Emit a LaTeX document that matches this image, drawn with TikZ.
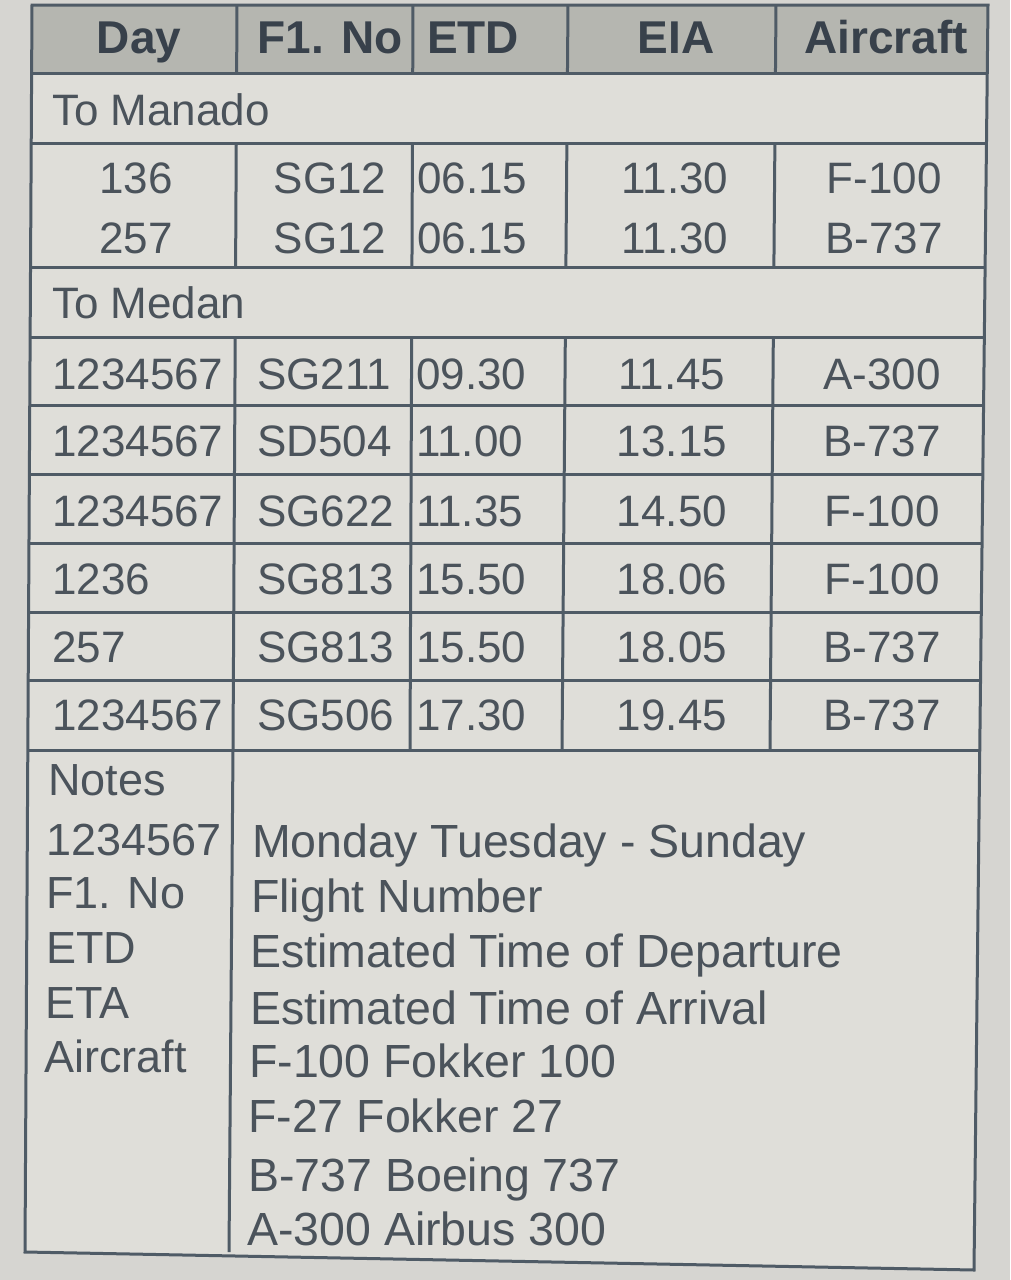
\documentclass[tikz,border=0pt]{standalone}
\usepackage{fontspec}
\setmainfont{Liberation Sans}
\definecolor{bgc}{HTML}{D6D5D1}
\definecolor{paper}{HTML}{DFDED9}
\definecolor{hdr}{HTML}{B5B6B0}
\definecolor{rulec}{HTML}{4F5B66}
\definecolor{ink}{HTML}{4B535B}
\definecolor{hink}{HTML}{38414B}
\newcommand\vseg[4]{%
  \pgfmathsetmacro\xa{#1+(#2-#1)*(#3-5)/745}%
  \pgfmathsetmacro\xb{#1+(#2-#1)*(#4-5)/745}%
  \draw[tabline] (\xa,#3) -- (\xb,#4);}
\begin{document}
\begin{tikzpicture}[x=1pt,y=-1pt,
  tabline/.style={draw=rulec,line width=3pt},
  every node/.style={inner sep=0pt,text=ink},
  body/.style={font=\fontsize{44}{50}\selectfont},
  hd/.style={font=\fontsize{46}{52}\selectfont\bfseries,text=hink,anchor=base},
  cc/.style={body,anchor=base},
  lc/.style={body,anchor=base west},
  nt/.style={font=\fontsize{46.5}{52}\selectfont,anchor=base west},
  ntl/.style={font=\fontsize{45}{52}\selectfont,anchor=base west}]
\useasboundingbox (0,0) rectangle (1010,1280);
\fill[bgc] (0,0) rectangle (1010,1280);
% paper and header
\fill[paper] (32,5) -- (988,5) -- (974,1270) -- (25,1252) -- cycle;
\fill[hdr] (32,5) -- (988,5) -- (987.2,73) -- (31.6,73) -- cycle;
% horizontal rules
\foreach \yy in {73,143,267,337,405,474,543,612,680,750}{
  \pgfmathsetmacro\xl{32-7*(\yy-5)/1247}
  \pgfmathsetmacro\xr{988-14*(\yy-5)/1265}
  \draw[tabline] (\xl,\yy) -- (\xr,\yy);
}
% outer border
\draw[tabline,line join=miter] (32,5) -- (988,5) -- (974,1270) -- (25,1252) -- cycle;
% vertical rules
\foreach \xt/\xbt in {237/233,413/410,568/562,776/770}{
  \vseg{\xt}{\xbt}{5}{73}
  \vseg{\xt}{\xbt}{143}{267}
  \vseg{\xt}{\xbt}{337}{750}
}
\draw[tabline] (233,750) -- (229,1252);
% header
\node[hd] (hday) at (139,53) {Day};
\node[hd] (hfl) at (330,53) {F1. No};
\node[hd,anchor=base west] (hetd) at (427,53) {ETD};
\node[hd] (heia) at (676,53) {EIA};
\node[hd] (hac) at (886,53) {Aircraft};
% To Manado
\node[lc] (manado) at (52,125) {To Manado};
\node[cc] (ma1) at (136,193) {136};
\node[cc] (mb1) at (330,193) {SG12};
\node[lc] (mc1) at (417,193) {06.15};
\node[cc] (md1) at (675,193) {11.30};
\node[cc] (me1) at (884,193) {F-100};
\node[cc] (ma2) at (136,253) {257};
\node[cc] (mb2) at (330,253) {SG12};
\node[lc] (mc2) at (417,253) {06.15};
\node[cc] (md2) at (675,253) {11.30};
\node[cc] (me2) at (884,253) {B-737};
% To Medan
\node[lc] (medan) at (52,318) {To Medan};
\foreach \i/\yy/\dd/\ff/\et/\ea/\ac in {
  1/389/1234567/SG211/09.30/11.45/A-300,
  2/456/1234567/SD504/11.00/13.15/B-737,
  3/526/1234567/SG622/11.35/14.50/F-100,
  4/594/1236/SG813/15.50/18.06/F-100,
  5/662/257/SG813/15.50/18.05/B-737,
  6/730/1234567/SG506/17.30/19.45/B-737}{
  \node[lc] (da\i) at (52,\yy) {\dd};
  \node[lc] (db\i) at (257,\yy) {\ff};
  \node[lc] (dc\i) at (416,\yy) {\et};
  \node[cc] (dd\i) at (672,\yy) {\ea};
  \node[cc] (de\i) at (882,\yy) {\ac};
}
% notes
\node[ntl] (nl0) at (48,795) {Notes};
\node[ntl] (nl1) at (46,855) {1234567};
\node[ntl] (nl2) at (46,908) {F1. No};
\node[ntl] (nl3) at (46,963) {ETD};
\node[ntl] (nl4) at (45,1018) {ETA};
\node[ntl] (nl5) at (44,1072) {Aircraft};
\node[nt] (nr1) at (252,857) {Monday Tuesday - Sunday};
\node[nt] (nr2) at (251,912) {Flight Number};
\node[nt] (nr3) at (250,967) {Estimated Time of Departure};
\node[nt] (nr4) at (250,1024) {Estimated Time of Arrival};
\node[nt] (nr5) at (249,1077) {F-100 Fokker 100};
\node[nt] (nr6) at (248,1132) {F-27 Fokker 27};
\node[nt] (nr7) at (248,1191) {B-737 Boeing 737};
\node[nt] (nr8) at (247,1245) {A-300 Airbus 300};
\end{tikzpicture}
\end{document}
